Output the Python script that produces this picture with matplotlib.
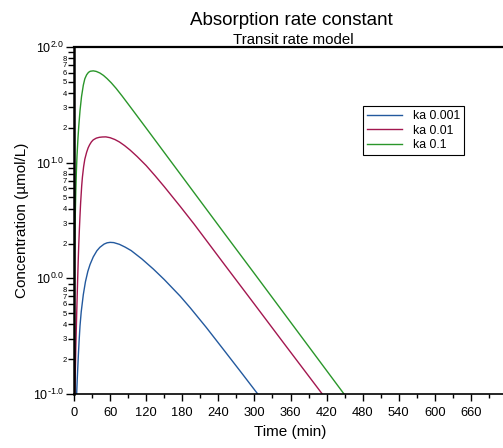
import numpy as np
import matplotlib
matplotlib.use("Agg")
import matplotlib.pyplot as plt
from matplotlib.ticker import FixedLocator, FixedFormatter

plt.rcParams['font.family'] = ['Liberation Sans', 'DejaVu Sans']
plt.rcParams['mathtext.default'] = 'regular'
plt.rcParams['axes.unicode_minus'] = False

BLUE = "#23599e"
RED = "#a3174f"
GREEN = "#2a962a"

# values (time in min, concentration in umol/L)
t_green = [0, 0.5, 1, 2, 3, 4, 5, 6.7, 8, 10, 12.5, 15.5, 18, 21, 24, 27, 32, 37, 43, 49, 55, 62,
           70, 80, 95, 120, 157, 176.7, 200, 250, 300, 350, 400, 449]
c_green = [0.1, 0.562, 1.413, 3.31, 5.75, 8.51, 11.48, 16.6, 20.9, 28.2, 37.2, 46.8, 53.1, 57.5, 60.3, 61.7,
           62.2, 61.5, 59.6, 56.8, 53.3, 49.0, 43.9, 37.7, 29.7, 19.9, 10.96, 7.98, 5.48, 2.45, 1.10,
           0.492, 0.220, 0.1]

t_red = [1.5, 3, 4.5, 6, 7, 8, 9, 10, 11, 12.8, 14, 16, 18, 21, 23.5, 26, 29, 32, 37, 42, 47, 53,
         60, 68, 75.5, 84, 93.3, 105, 120, 135, 150, 176.7, 200, 250, 300, 350, 412.8]
c_red = [0.1, 0.251, 0.501, 0.951, 1.413, 2.0, 2.69, 3.51, 4.47, 6.31, 7.50, 9.23, 10.72, 12.30, 13.43,
         14.29, 15.14, 15.74, 16.29, 16.56, 16.67, 16.71, 16.44, 15.85, 15.10, 14.06, 12.85, 11.30,
         9.44, 7.69, 6.21, 4.18, 2.93, 1.32, 0.598, 0.270, 0.1]

t_blue = [4.4, 5.5, 7.2, 8.5, 10, 12, 15.5, 19, 23, 26.7, 32, 38, 43, 50, 55, 60, 66, 75.5, 85, 95,
          112.8, 132, 150, 176.7, 193.3, 220, 250, 280, 305.5]
c_blue = [0.1, 0.138, 0.214, 0.288, 0.389, 0.513, 0.724, 0.933, 1.148, 1.318, 1.531, 1.730, 1.854,
          1.977, 2.028, 2.046, 2.037, 1.968, 1.862, 1.738, 1.472, 1.202, 0.977, 0.700, 0.556, 0.376,
          0.237, 0.149, 0.1]

labels = ["ka 0.001", "ka 0.01", "ka 0.1"]
x_major = list(range(0, 661, 60))
x_minor = list(range(30, 721, 60))
y_major = [0.1, 1, 10, 100]
y_major_labels = [r'$10^{\text{-}1.0}$', '$10^{0.0}$', '$10^{1.0}$', '$10^{2.0}$']

fig = plt.figure(figsize=(5.03, 4.48), dpi=100)
ax = fig.add_axes([74 / 503, 54 / 448, 433 / 503, 347 / 448])

for t, c, color, label in zip([t_blue, t_red, t_green], [c_blue, c_red, c_green],
                              [BLUE, RED, GREEN], labels):
    ax.plot(t, c, color=color, lw=1.0, label=label)

ax.set_yscale('log')
ax.set_xlim(0, 720)
ax.set_ylim(0.1, 100)

# y ticks: decades as 10^x.0, minor 2..8 labelled small
ax.yaxis.set_major_locator(FixedLocator(y_major))
ax.yaxis.set_major_formatter(FixedFormatter(y_major_labels))
minor_locs = []
minor_labs = []
for d in [0.1, 1, 10]:
    for m in range(2, 10):
        minor_locs.append(m * d)
        minor_labs.append(str(m) if m < 9 else '')
ax.yaxis.set_minor_locator(FixedLocator(minor_locs))
ax.yaxis.set_minor_formatter(FixedFormatter(minor_labs))

ax.xaxis.set_major_locator(FixedLocator(x_major))
ax.xaxis.set_minor_locator(FixedLocator(x_minor))

ax.tick_params(axis='y', which='major', length=6, width=1, labelsize=9, pad=1)
ax.tick_params(axis='y', which='minor', length=4, width=1, labelsize=5.5, pad=1)
ax.tick_params(axis='x', which='major', length=5, width=1, labelsize=9.3, pad=4)
ax.tick_params(axis='x', which='minor', length=3, width=1)

ax.spines['left'].set_linewidth(1.8)
ax.spines['bottom'].set_linewidth(1.2)
ax.spines['top'].set_linewidth(1.6)
ax.spines['right'].set_visible(False)

ax.set_xlabel('Time (min)', fontsize=11, labelpad=5)
ax.set_ylabel('Concentration (µmol/L)', fontsize=11, labelpad=3)

fig.text(291 / 503, 1 - 25 / 448, 'Absorption rate constant', fontsize=13.5, ha='center', va='baseline')
fig.text(293 / 503, 1 - 44 / 448, 'Transit rate model', fontsize=10.8, ha='center', va='baseline')

leg = ax.legend(loc='upper left', bbox_to_anchor=((363 - 74) / 433, (394 - 106) / 347),
                fontsize=8.8, fancybox=False, edgecolor='black', framealpha=1,
                handlelength=2.8, borderpad=0.35, labelspacing=0.2, handletextpad=0.9,
                borderaxespad=0)
leg.get_frame().set_linewidth(0.8)

fig.savefig('out.png', dpi=100)
